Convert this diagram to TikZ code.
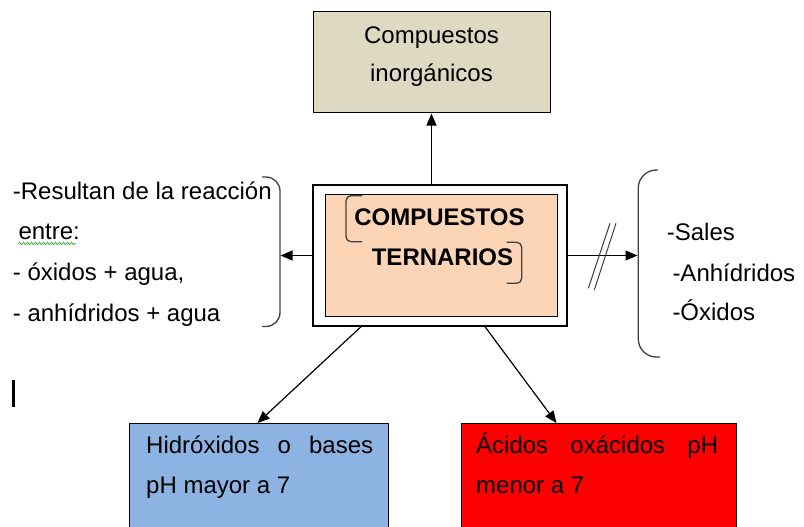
\documentclass[tikz,border=0pt]{standalone}
\usepackage{fontspec}
\setmainfont{Liberation Sans}
\usetikzlibrary{arrows.meta,decorations.pathmorphing}
\definecolor{beige}{HTML}{DDD9C3}
\definecolor{peach}{HTML}{FBD5B5}
\definecolor{bluebox}{HTML}{8DB3E2}
\definecolor{brc}{HTML}{404040}
\definecolor{wavy}{RGB}{70,170,70}
\begin{document}
\begin{tikzpicture}[x=1pt,y=-1pt,
  box/.style={draw=black, line width=1pt, rectangle, inner sep=0pt},
  txt/.style={inner sep=0pt, font=\fontsize{24}{40}\selectfont, text=black},
  arr/.style={-{Triangle[length=12pt,width=10pt]}, line width=1.2pt},
  brk/.style={draw=brc, line width=1.3pt}
]
\useasboundingbox (0,0) rectangle (804,527);
\clip (0,0) rectangle (804,527);
\fill[white] (0,0) rectangle (804,527);

% boxes
\node[box, fill=beige, minimum width=237pt, minimum height=101pt] (top) at (431.5,62.5) {};
\node[box, fill=white, line width=1.4pt, minimum width=254pt, minimum height=141pt] (outer) at (440,255.5) {};
\node[box, fill=peach, minimum width=232pt, minimum height=122pt] (inner) at (441,255) {};
\node[box, fill=bluebox, minimum width=259pt, minimum height=130pt, anchor=north west] (blue) at (129,423) {};
\node[box, fill=red, minimum width=275pt, minimum height=130pt, anchor=north west] (redb) at (461,423) {};

% texts
\node[txt, anchor=base] (t1) at (431.5,44) {Compuestos};
\node[txt, anchor=base] (t2) at (431.5,82) {inorgánicos};
\node[txt, anchor=base, font=\fontsize{24}{40}\selectfont\bfseries] (c1) at (439.5,225) {COMPUESTOS};
\node[txt, anchor=base, font=\fontsize{24}{40}\selectfont\bfseries] (c2) at (442.5,265) {TERNARIOS};

\node[txt, anchor=base west] (l1) at (12.7,199) {-Resultan de la reacción};
\node[txt, anchor=base west] (l2) at (18.3,239.5) {entre:};
\node[txt, anchor=base west] (l3) at (12.7,280) {- óxidos + agua,};
\node[txt, anchor=base west] (l4) at (12.7,321) {- anhídridos + agua};

\node[txt, anchor=base west] (r1) at (666.7,240.7) {-Sales};
\node[txt, anchor=base west] (r2) at (672.3,281.5) {-Anhídridos};
\node[txt, anchor=base west] (r3) at (672.3,320.7) {-Óxidos};

\node[txt, anchor=north west, text width=227pt, align=justify] (bt) at (146,429)
  {\rule{0pt}{24pt}Hidróxidos o bases pH mayor a 7};
\node[txt, anchor=north west, text width=242pt, align=justify] (rt) at (476,429)
  {\rule{0pt}{24pt}Ácidos oxácidos pH menor a 7};

% wavy underline
\draw[wavy, line width=0.8pt, decorate, decoration={snake, amplitude=1.2pt, segment length=4pt}] (l2.base west) ++(0,4) coordinate (w1) -- ++(57,0);

% brackets inside centre box
\draw[brk, rounded corners=5pt] (362,195.7) -- (346,195.7) -- (346,241.7) -- (362,241.7);
\draw[brk, rounded corners=5pt] (506.7,242.3) -- (521.7,242.3) -- (521.7,283.3) -- (506.7,283.3);

% big braces
\draw[brk, rounded corners=14pt] (262,177) -- (280,177) -- (280,326.5) -- (262,326.5);
\draw[brk, rounded corners=18pt] (658,170) -- (638.3,170) -- (638.3,357) -- (660,357);
\coordinate (lb) at (280.5,255.5);
\coordinate (rb) at (637.5,255.5);

% arrows
\draw[arr] (outer.north -| top.south) -- (top.south);
\draw[arr] (outer.west) -- (lb);
\draw[arr] (outer.east) -- (rb);
\draw[arr] ([xshift=-79pt]outer.south) -- ([xshift=-1.5pt]blue.north);
\draw[arr] ([xshift=45pt]outer.south) -- ([xshift=-42.5pt]redb.north);

% double slash on right connector
\draw[line width=1pt, brc] (588.3,288.3) -- (610,223.3);
\draw[line width=1pt, brc] (594.3,290) -- (616,223.3);

% cursor bar
\fill[black] (11.7,380) rectangle (14.7,406.7);
\end{tikzpicture}
\end{document}
